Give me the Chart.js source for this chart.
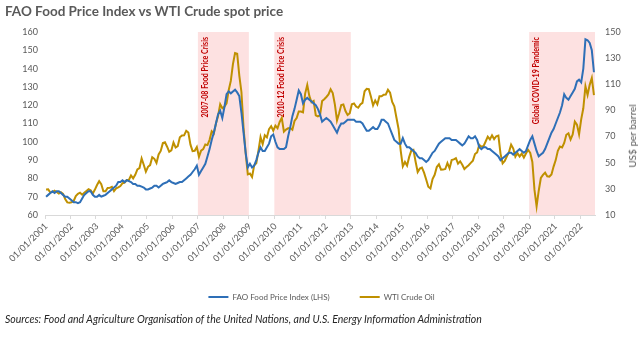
<!DOCTYPE html>
<html>
<head>
<meta charset="utf-8">
<script src="https://cdn.jsdelivr.net/npm/chart.js@4.4.1/dist/chart.umd.min.js"></script>
<style>
  html, body { margin: 0; padding: 0; background: #fff; }
  #wrap { position: relative; width: 643px; height: 337px; overflow: hidden; font-family: Lato, sans-serif; }
  #title { position: absolute; left: 5px; top: 3px; font-size: 13.5px; font-weight: bold; color: #595959; white-space: nowrap; }
  #source { position: absolute; left: 5px; top: 313px; font-size: 10.5px; font-style: italic; color: #262626; white-space: nowrap; }
  #ytitle { position: absolute; left: 632px; top: 136px; transform: translate(-50%, -50%) rotate(-90deg); font-size: 10px; color: #595959; white-space: nowrap; }
  canvas { position: absolute; left: 0; top: 0; }
</style>
</head>
<body>
<div id="wrap">
  <canvas id="chart" width="643" height="337"></canvas>
  <div id="title">FAO Food Price Index vs WTI Crude spot price</div>
  <div id="ytitle">US$ per barrel</div>
  <div id="source">Sources: Food and Agriculture Organisation of the United Nations, and U.S. Energy Information Administration</div>
</div>
<script>
// Monthly series, Jan 2001 - Jul 2022
const firstYear = 2001;
const lastYear = 2022;
const lastMonth = 7;

// FAO Food Price Index (left axis)
const fao = [
  70, 71, 72, 73, 72, 73, 73, 72, 71, 70, 70, 69,
  68, 67, 67, 66.5, 67, 69, 71, 72, 73, 73, 71, 70,
  70, 71, 70, 70.5, 71, 72, 73, 74, 75, 76, 78, 78,
  79, 78, 79, 78.5, 78, 77, 77, 76, 76, 75.5, 75, 74,
  74, 74.5, 75, 76, 76, 75, 76, 77, 77.5, 78, 79, 78,
  77.5, 77, 77.5, 78, 78, 79, 80, 81, 82, 83.5, 85, 87,
  82, 84, 86, 88, 92, 96, 101, 105, 110, 115, 117, 113,
  119, 126, 127.5, 126.5, 127.5, 128.5, 127, 125, 116, 105, 94, 86,
  88, 86, 87, 90, 94, 97, 95, 95, 97, 99, 103, 104,
  100, 97, 96, 96, 96, 97, 103, 108, 114, 118, 123, 128,
  126, 121, 123, 124, 123, 122, 121, 120, 118, 115, 111, 112,
  113, 112, 111, 109, 107, 105, 108, 110, 110, 111, 112, 112,
  112, 112, 111, 111, 111, 110, 108, 106, 106, 107, 108, 107,
  107, 109, 112, 112, 111, 110, 107, 104, 101, 100, 99, 99,
  102, 99, 97, 97, 96, 95, 94, 92, 91, 91, 90, 89,
  90, 92, 94, 95, 97, 99, 100, 101, 102, 102, 102, 101,
  101, 101, 100, 99, 98, 99, 101, 103, 102, 102, 103, 101,
  97, 96, 97, 97, 96, 96, 95, 94, 93, 92, 90, 91,
  92, 93, 94, 94, 93, 94, 95, 96, 95, 94, 95, 98,
  101, 103, 99, 95, 92, 93, 94, 96, 99, 102, 105, 107,
  110, 113, 116, 120, 126, 124, 123, 125, 127, 129, 133, 134,
  132.5, 140, 156, 155.5, 154, 150, 138
];

// WTI crude spot price, US$ per barrel (right axis)
const wti = [
  29.59, 29.61, 27.25, 27.49, 28.63, 27.60, 26.43, 27.37, 26.20, 22.17, 19.64, 19.39,
  19.72, 20.72, 24.53, 26.18, 27.04, 25.52, 26.97, 28.39, 29.66, 28.84, 26.35, 29.46,
  32.95, 35.83, 33.51, 28.17, 28.11, 30.66, 30.75, 31.57, 28.31, 30.34, 31.11, 32.13,
  34.31, 34.69, 36.74, 36.75, 40.28, 38.03, 40.78, 44.90, 45.94, 53.28, 48.47, 43.15,
  46.84, 48.15, 54.19, 52.98, 49.83, 56.35, 59.00, 64.99, 65.59, 62.26, 58.32, 59.41,
  65.49, 61.63, 62.69, 69.44, 70.84, 70.95, 74.41, 73.04, 63.80, 58.89, 59.08, 61.96,
  54.51, 59.28, 60.44, 63.98, 63.46, 67.49, 74.12, 72.36, 79.92, 85.80, 94.77, 91.69,
  92.97, 95.39, 105.45, 112.58, 125.40, 133.88, 133.37, 116.67, 104.11, 76.61, 57.31, 41.12,
  41.71, 39.09, 47.94, 49.65, 59.03, 69.64, 64.15, 71.05, 69.41, 75.72, 77.99, 74.47,
  78.33, 76.39, 81.20, 84.29, 73.74, 75.34, 76.32, 76.60, 75.24, 81.89, 84.25, 89.15,
  89.17, 88.58, 102.86, 109.53, 100.90, 96.26, 97.30, 86.33, 85.52, 86.32, 97.16, 98.56,
  100.27, 102.20, 106.16, 103.32, 94.66, 82.30, 87.90, 94.13, 94.51, 89.49, 86.53, 87.86,
  94.76, 95.31, 92.94, 92.02, 94.51, 95.77, 104.67, 106.57, 106.29, 100.54, 93.86, 97.63,
  94.62, 100.82, 100.80, 102.07, 102.18, 105.79, 103.59, 96.54, 93.21, 84.40, 75.79, 59.29,
  47.22, 50.58, 47.82, 54.45, 59.27, 59.82, 50.90, 42.87, 45.48, 46.22, 42.44, 37.19,
  31.68, 30.32, 37.55, 40.75, 46.71, 48.76, 44.65, 44.72, 45.18, 49.78, 45.66, 51.97,
  52.50, 53.47, 49.33, 51.06, 48.48, 45.18, 46.63, 48.04, 49.82, 51.58, 56.64, 57.88,
  63.70, 62.23, 62.73, 66.25, 69.98, 67.87, 70.98, 68.06, 70.23, 70.75, 56.96, 49.52,
  51.38, 54.95, 58.15, 63.86, 60.83, 54.66, 57.35, 54.81, 56.95, 53.96, 57.03, 59.88,
  57.52, 50.54, 29.21, 16.55, 28.56, 38.31, 40.71, 42.34, 39.63, 39.40, 40.94, 47.02,
  52.00, 59.04, 62.33, 61.72, 65.17, 71.38, 72.49, 67.73, 71.65, 81.48, 79.15, 71.71,
  83.22, 91.64, 108.50, 101.78, 109.55, 114.84, 101.62
];

// Shaded periods (first and last month included)
const crisisFrom = ['01/01/2007', '01/01/2010', '01/01/2020'];
const crisisTo = ['01/12/2008', '01/12/2012', '01/07/2022'];
const crisisText = ['2007-08 Food Price Crisis', '2010-12 Food Price Crisis', 'Global COVID-19 Pandemic'];

// Left and right axis ranges
const leftTicks = [60, 160, 10];
const rightTicks = [10, 150, 20];

const labels = [];
for (let y = firstYear; y <= lastYear; y++) {
  for (let m = 1; m <= 12; m++) {
    if (y === lastYear && m > lastMonth) break;
    labels.push('01/' + String(m).padStart(2, '0') + '/' + y);
  }
}

const axisGrey = '#595959';
const font = { family: 'Lato, sans-serif', size: 9 };

// Pink bands with vertical captions
const crisisBands = {
  id: 'crisisBands',
  beforeDatasetsDraw(chart) {
    const { ctx, chartArea, scales: { x } } = chart;
    const half = (x.getPixelForValue(1) - x.getPixelForValue(0)) / 2;
    ctx.save();
    crisisFrom.forEach((from, i) => {
      const x0 = x.getPixelForValue(labels.indexOf(from)) - half;
      const x1 = x.getPixelForValue(labels.indexOf(crisisTo[i])) + half;
      ctx.fillStyle = '#fde1e1';
      ctx.fillRect(x0, chartArea.top, x1 - x0, chartArea.bottom - chartArea.top);
      ctx.save();
      ctx.translate(x0 + 7, chartArea.top + 5);
      ctx.rotate(-Math.PI / 2);
      ctx.scale(0.78, 1);   // captions are narrow in the original
      ctx.fillStyle = '#c00000';
      ctx.font = 'bold 9px Lato, sans-serif';
      ctx.textAlign = 'right';
      ctx.textBaseline = 'middle';
      ctx.fillText(crisisText[i], 0, 0);
      ctx.restore();
    });
    ctx.restore();
  }
};

new Chart(document.getElementById('chart'), {
  type: 'line',
  data: {
    labels,
    datasets: [
      {
        label: 'FAO Food Price Index (LHS)',
        data: fao,
        yAxisID: 'y',
        borderColor: '#2e6fb7',
        backgroundColor: '#2e6fb7',
        borderWidth: 2,
        pointRadius: 0,
        tension: 0,
        order: 1
      },
      {
        label: 'WTI Crude Oil',
        data: wti,
        yAxisID: 'y1',
        borderColor: '#bf9000',
        backgroundColor: '#bf9000',
        borderWidth: 2,
        pointRadius: 0,
        tension: 0,
        order: 2
      }
    ]
  },
  options: {
    responsive: false,
    devicePixelRatio: 1,
    animation: false,
    layout: { padding: { left: 0, right: 0, top: 32, bottom: 26 } },
    plugins: {
      tooltip: { enabled: false },
      legend: {
        position: 'bottom',
        labels: {
          color: axisGrey,
          font: { family: 'Lato, sans-serif', size: 8 },
          usePointStyle: true,
          pointStyle: 'line',
          pointStyleWidth: 20,
          boxHeight: 9,
          padding: 30
        }
      }
    },
    scales: {
      x: {
        type: 'category',
        offset: true,
        grid: {
          offset: true,
          drawOnChartArea: false,
          drawTicks: true,
          tickLength: 4,
          color: ctx => (ctx.index % 12 === 0 && ctx.index < labels.length) ? '#d9d9d9' : 'rgba(0,0,0,0)'
        },
        border: { display: true, color: '#d9d9d9' },
        ticks: {
          autoSkip: false,
          minRotation: 45,
          maxRotation: 45,
          color: axisGrey,
          font,
          padding: 2,
          callback: (v, i) => (i % 12 === 0 ? labels[i] : '')
        },
        afterFit: s => { s.height = 48; }
      },
      y: {
        position: 'left',
        min: leftTicks[0],
        max: leftTicks[1],
        grid: { display: false, drawTicks: false },
        border: { display: false },
        ticks: { stepSize: leftTicks[2], color: axisGrey, font, padding: 7 },
        afterFit: s => { s.width = 45; }
      },
      y1: {
        position: 'right',
        min: rightTicks[0],
        max: rightTicks[1],
        grid: { display: false, drawTicks: false },
        border: { display: false },
        ticks: { stepSize: rightTicks[2], color: axisGrey, font, padding: 10 },
        afterFit: s => { s.width = 48; }
      }
    }
  },
  plugins: [crisisBands]
});
</script>
</body>
</html>
